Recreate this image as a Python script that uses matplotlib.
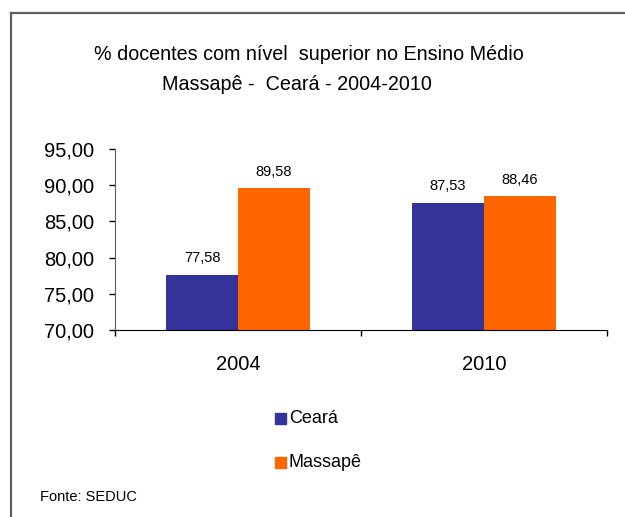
import matplotlib
matplotlib.use("Agg")
import matplotlib.pyplot as plt
from matplotlib.patches import Rectangle
from matplotlib.lines import Line2D

plt.rcParams['font.family'] = ['Liberation Sans', 'DejaVu Sans']

categories = ["2004", "2010"]
series_names = ["Ceará", "Massapê"]
ceara = [77.58, 87.53]
massape = [89.58, 88.46]
value_labels_ceara = ["77,58", "87,53"]
value_labels_massape = ["89,58", "88,46"]
yticks = [70, 75, 80, 85, 90, 95]
ytick_labels = ["70,00", "75,00", "80,00", "85,00", "90,00", "95,00"]
colors = ["#333399", "#FF6600"]

W, H = 625, 517
fig = plt.figure(figsize=(W / 100, H / 100), dpi=100)

# outer frame
fig.add_artist(Line2D([11 / W, 11 / W], [0, 1 - 12.5 / H], color="#606060", lw=1.6))
fig.add_artist(Line2D([11 / W, 1], [1 - 12.5 / H, 1 - 12.5 / H], color="#606060", lw=1.6))

ax = fig.add_axes([115 / W, 1 - 330 / H, (607 - 115) / W, (330 - 149) / H])
x = list(range(len(categories)))
w = 0.292
b1 = ax.bar([i - w / 2 for i in x], [v - 70 for v in ceara], w, bottom=70, color=colors[0])
b2 = ax.bar([i + w / 2 for i in x], [v - 70 for v in massape], w, bottom=70, color=colors[1])

for i in x:
    ax.annotate(value_labels_ceara[i], (i - w / 2, ceara[i]), xytext=(0, 7),
                textcoords="offset points", ha="center", va="bottom", fontsize=10.5)
    ax.annotate(value_labels_massape[i], (i + w / 2, massape[i]), xytext=(0, 7),
                textcoords="offset points", ha="center", va="bottom", fontsize=10.5)

ax.set_ylim(70, 95)
ax.set_xlim(-0.5, 1.5)
ax.set_yticks(yticks)
ax.set_yticklabels(ytick_labels, fontsize=14.5)
ax.set_xticks([-0.5, 0.5, 1.5])
ax.set_xticklabels([])
ax.set_xticks(x, minor=True)
ax.set_xticklabels(categories, minor=True, fontsize=14.5)
ax.tick_params(axis="x", which="minor", length=0, pad=18)
ax.tick_params(axis="x", which="major", length=4, direction="out", width=1)
ax.tick_params(axis="y", length=4, direction="out", width=1, pad=11)
for s in ["top", "right"]:
    ax.spines[s].set_visible(False)
ax.spines["left"].set_color("#606060")
ax.spines["bottom"].set_color("black")

# title
fig.text(309 / W, 1 - 54 / H, "% docentes com nível  superior no Ensino Médio",
         ha="center", va="center", fontsize=14.2)
fig.text(297 / W, 1 - 84 / H, "Massapê -  Ceará - 2004-2010",
         ha="center", va="center", fontsize=14.2)

# legend
for k, (name, c) in enumerate(zip(series_names, colors)):
    yc = 418.5 + 44 * k
    fig.add_artist(Rectangle((275 / W, 1 - (yc + 5.5) / H), 11 / W, 11 / H,
                             transform=fig.transFigure, color=c))
    fig.text(289 / W, 1 - yc / H, name, ha="left", va="center", fontsize=13)

fig.text(40 / W, 1 - 497 / H, "Fonte: SEDUC", ha="left", va="center", fontsize=10.5)

fig.savefig("out.png", dpi=100)
